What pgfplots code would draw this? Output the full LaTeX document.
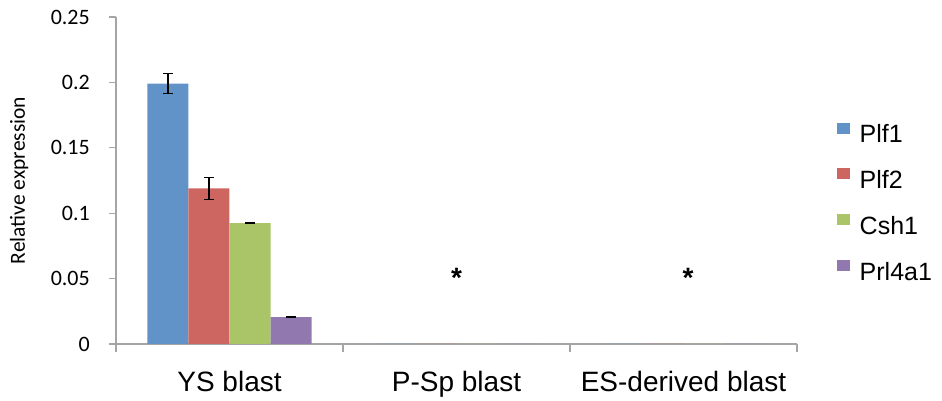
\documentclass[border=0pt]{standalone}
\usepackage{fontspec}
\setmainfont{Liberation Sans}
\newfontfamily\calibri{Carlito}
\usepackage{pgfplots}
\pgfplotsset{compat=1.18}
\definecolor{cA}{RGB}{97,147,201}
\definecolor{cB}{RGB}{205,102,96}
\definecolor{cC}{RGB}{170,196,104}
\definecolor{cD}{RGB}{145,121,176}
\definecolor{axgray}{RGB}{165,165,165}
\begin{document}
\begin{tikzpicture}
\begin{axis}[
  scale only axis, width=681pt, height=327pt,
  ybar=0pt, bar width=41pt,
  xmin=-0.5, xmax=2.5, ymin=0, ymax=0.25,
  axis x line*=bottom, axis y line*=left,
  axis line style={axgray, line width=1.2pt},
  tick align=outside,
  major tick length=7pt, minor tick length=8pt,
  xtick={0,1,2}, xticklabels={YS blast, P-Sp blast, ES-derived blast},
  minor xtick={-0.5,0.5,1.5,2.5},
  major x tick style={draw=none},
  minor x tick style={axgray, line width=1.2pt},
  major y tick style={axgray, line width=1.2pt},
  xticklabel style={font=\fontsize{28}{32}\selectfont, anchor=base, yshift=-40pt},
  ytick={0,0.05,0.1,0.15,0.2,0.25},
  yticklabels={0,0.05,0.1,0.15,0.2,0.25},
  yticklabel style={font=\calibri\fontsize{22}{26}\selectfont, anchor=east, inner sep=0pt, xshift=-19pt},
  ylabel={Relative expression},
  ylabel style={font=\calibri\fontsize{21.5}{24}\selectfont, at={(axis description cs:-0.1424,0.5)}, anchor=center},
  error bars/error bar style={black, line width=1.1pt},
  error bars/error mark options={rotate=90, mark size=5pt, line width=1.1pt, black},
  legend style={at={(1.058,0.440)}, anchor=west, draw=none, fill=none,
    font=\fontsize{25}{30}\selectfont, row sep=16pt, inner sep=0pt},
  legend cell align=left,
  legend image code/.code={\fill[#1, draw=none] (0pt,1pt) rectangle (13pt,12pt); \path (0pt,0pt) (21pt,18pt);},
  clip=false,
]
\addplot[fill=cA, draw=none, error bars/.cd, y dir=both, y explicit]
  coordinates {(0,0.199) +- (0,0.0077) (1,0) (2,0)};
\addplot[fill=cB, draw=none, error bars/.cd, y dir=both, y explicit]
  coordinates {(0,0.119) +- (0,0.0083) (1,0) (2,0)};
\addplot[fill=cC, draw=none, error bars/.cd, y dir=both, y explicit]
  coordinates {(0,0.0925) +- (0,0.0005) (1,0) (2,0)};
\addplot[fill=cD, draw=none, error bars/.cd, y dir=both, y explicit]
  coordinates {(0,0.0205) +- (0,0.0003) (1,0) (2,0)};
\legend{Plf1, Plf2, Csh1, Prl4a1}
\node[anchor=base, font=\bfseries\fontsize{28}{32}\selectfont] at (axis cs:1,0.043) {*};
\node[anchor=base, font=\bfseries\fontsize{28}{32}\selectfont] at (axis cs:2.02,0.043) {*};
\end{axis}
\pgfresetboundingbox
\path ([shift={(-116pt,-57pt)}]current axis.south west) rectangle ([shift={(145pt,17pt)}]current axis.north east);
\end{tikzpicture}
\end{document}
